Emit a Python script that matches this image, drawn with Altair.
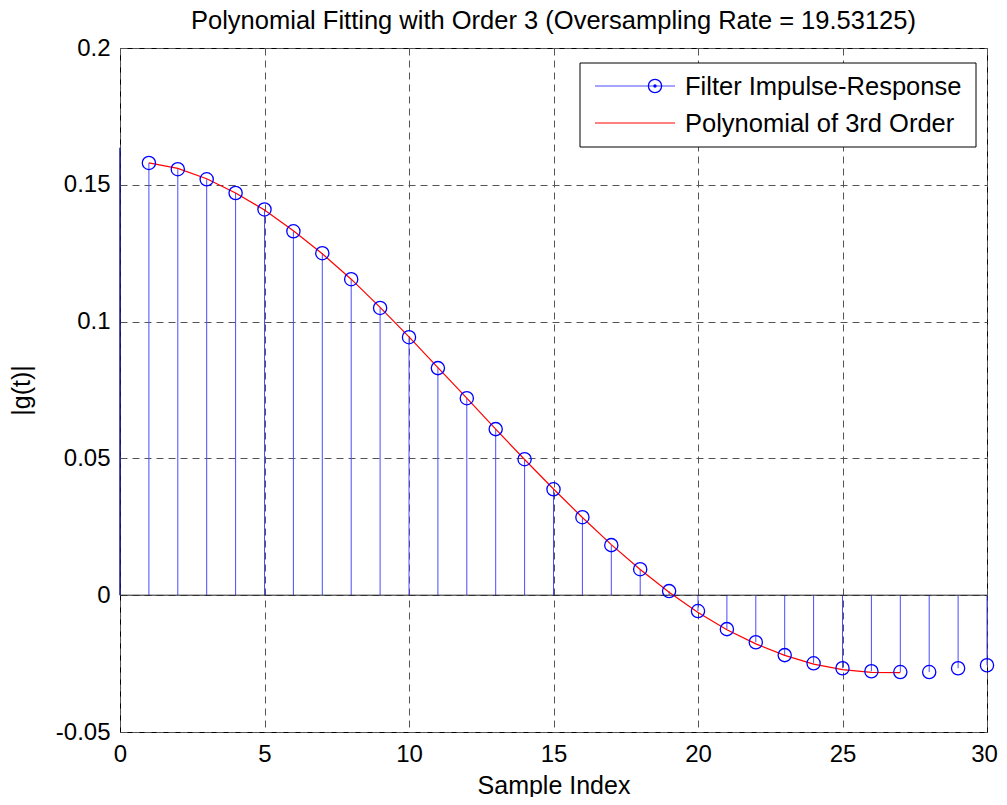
import altair as alt
import pandas as pd

# ---- data ----
samples = list(range(1, 31))
impulse = [0.1580, 0.1557, 0.1520, 0.1470, 0.1410, 0.1330, 0.1250, 0.1155, 0.1050, 0.0943,
           0.0830, 0.0720, 0.0607, 0.0497, 0.0387, 0.0285, 0.0183, 0.0095, 0.0015, -0.0058,
           -0.0124, -0.0172, -0.0219, -0.0249, -0.0267, -0.0278, -0.0281, -0.0281, -0.0267, -0.0256]
poly_x = list(range(1, 28))
poly_y = [0.1580, 0.1560, 0.1522, 0.1470, 0.1408, 0.1332, 0.1248, 0.1155, 0.1052, 0.0944,
          0.0832, 0.0720, 0.0607, 0.0496, 0.0388, 0.0284, 0.0185, 0.0094, 0.0011, -0.0063,
          -0.0126, -0.0178, -0.0220, -0.0252, -0.0272, -0.0282, -0.0283]
edge_stem = [0.0, 0.1635]   # blue segment drawn on the left edge (x = 0)
x_ticks = [0, 5, 10, 15, 20, 25, 30]
y_ticks = [-0.05, 0, 0.05, 0.1, 0.15, 0.2]

title_text = "Polynomial Fitting with Order 3 (Oversampling Rate = 19.53125)"
legend_labels = ["Filter Impulse-Response", "Polynomial of 3rd Order"]

FONT = "Liberation Sans"
BLUE = "#0000ff"
STEM = "#4a4aff"
RED = "#ff0000"
W, H = 867, 684

df = pd.DataFrame({"n": samples, "g": impulse, "zero": [0.0] * len(samples)})
dpoly = pd.DataFrame({"n": poly_x, "g": poly_y})
dedge = pd.DataFrame({"n": [0], "g": [edge_stem[1]], "zero": [edge_stem[0]]})
dbase = pd.DataFrame({"g": [0.0]})
one = pd.DataFrame({"k": [0]})

xscale = alt.Scale(domain=[0, 30], nice=False, zero=False)
yscale = alt.Scale(domain=[-0.05, 0.2], nice=False, zero=False)

x_axis = alt.Axis(values=x_ticks, title="Sample Index", grid=True, labelPadding=10,
                  titlePadding=7, labelFlush=False,
                  labelOffset={"condition": {"test": "datum.value == 30", "value": -3},
                               "value": 0})
y_axis = alt.Axis(values=y_ticks, title="|g(t)|", grid=True, labelPadding=10,
                  titlePadding=21, labelExpr="'' + datum.value")


def X():
    return alt.X("n:Q", scale=xscale, axis=x_axis)


def Y():
    return alt.Y("g:Q", scale=yscale, axis=y_axis)


stems = alt.Chart(df).mark_rule(color=STEM, strokeWidth=1).encode(x=X(), y=Y(), y2="zero:Q")

edge = alt.Chart(dedge).mark_rule(color="#1a1a90", strokeWidth=1.5).encode(
    x=X(), y=Y(), y2="zero:Q")

base = alt.Chart(dbase).mark_rule(color="#222222", strokeWidth=1).encode(y=Y())

points = alt.Chart(df).mark_point(shape="circle", filled=False, color=BLUE,
                                  size=175, strokeWidth=1.3, opacity=1).encode(x=X(), y=Y())

poly = alt.Chart(dpoly).mark_line(color=RED, strokeWidth=1.2).encode(x=X(), y=Y())

# ---- legend box (top right, inside the plot) ----
lg_box = alt.Chart(one).mark_rect(fill="white", stroke="black", strokeWidth=1).encode(
    x=alt.value(460), x2=alt.value(856), y=alt.value(15), y2=alt.value(99))
lg_line1 = alt.Chart(one).mark_rule(color=STEM, strokeWidth=1).encode(
    x=alt.value(475), x2=alt.value(555), y=alt.value(38))
lg_circ = alt.Chart(one).mark_point(shape="circle", filled=False, color=BLUE, size=175,
                                    strokeWidth=1.3, opacity=1).encode(
    x=alt.value(535), y=alt.value(38))
lg_dot = alt.Chart(one).mark_point(shape="circle", filled=True, color=BLUE, size=12,
                                   opacity=1).encode(
    x=alt.value(535), y=alt.value(38))
lg_line2 = alt.Chart(one).mark_rule(color=RED, strokeWidth=1).encode(
    x=alt.value(475), x2=alt.value(555), y=alt.value(75))
lg_t1 = alt.Chart(one).mark_text(text=legend_labels[0], font=FONT, fontSize=25.5, align="left",
                                 baseline="middle", color="black").encode(
    x=alt.value(565), y=alt.value(39))
lg_t2 = alt.Chart(one).mark_text(text=legend_labels[1], font=FONT, fontSize=25.5, align="left",
                                 baseline="middle", color="black").encode(
    x=alt.value(565), y=alt.value(76))

chart = alt.layer(
    stems, base, edge, poly, points,
    lg_box, lg_line1, lg_circ, lg_dot, lg_line2, lg_t1, lg_t2,
).properties(
    width=W, height=H,
    background="white",
    title=alt.TitleParams(text=title_text, font=FONT, fontSize=25.5, fontWeight="normal",
                          color="black", anchor="middle", offset=2),
    autosize=alt.AutoSizeParams(type="none"),
    padding={"left": 112, "top": 40, "right": 12, "bottom": 65},
).configure_view(
    stroke="black", strokeWidth=1
).configure_axis(
    domain=False, ticks=False,
    gridColor="#555555", gridDash=[7, 5], gridWidth=1, gridOpacity=1,
    labelFont=FONT, labelFontSize=24, labelColor="black",
    titleFont=FONT, titleFontSize=25, titleFontWeight="normal", titleColor="black",
)

chart.save("out.html", embed_options={"renderer": "svg", "actions": False})
